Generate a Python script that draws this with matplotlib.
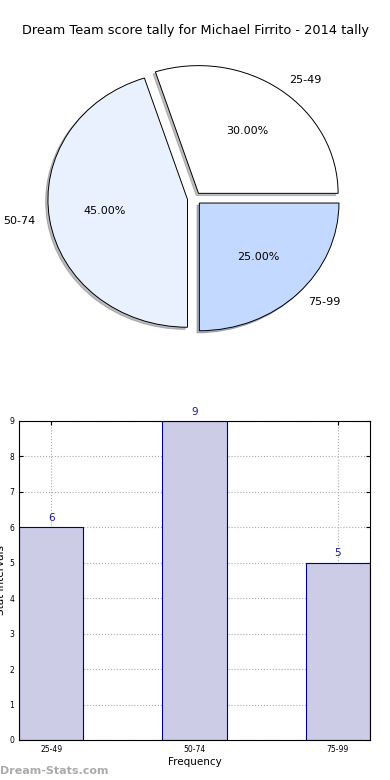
import matplotlib
matplotlib.use("Agg")
import matplotlib.pyplot as plt

# Data
categories = ["25-49", "50-74", "75-99"]
counts = [6, 9, 5]
pie_colors = ["#ffffff", "#eaf1fe", "#c4d9ff"]

title = "Dream Team score tally for Michael Firrito - 2014 tally"

fig = plt.figure(figsize=(3.9, 7.8), dpi=100)
fig.text(0.5, 0.961, title, ha="center", va="center", fontsize=9.3)

# Pie chart (elliptical, as in the reference)
ax1 = fig.add_axes([0.069, 0.549, 0.859, 0.393])
wedges, texts, autotexts = ax1.pie(
    counts,
    labels=categories,
    colors=pie_colors,
    explode=[0.05] * len(counts),
    autopct="%1.2f%%",
    shadow=dict(ox=-0.012, oy=-0.012, shade=0.5),
    startangle=0,
    wedgeprops=dict(edgecolor="black", linewidth=0.7),
    textprops=dict(fontsize=8),
)
ax1.set_aspect("auto")
ax1.set_xlim(-1.2, 1.2)
ax1.set_ylim(-1.2, 1.2)
ax1.axis("off")

# Bar chart
ax2 = fig.add_axes([0.0487, 0.0513, 0.9, 0.409])
x = list(range(len(categories)))
bars = ax2.bar(x, counts, width=0.45, color="#ccccE6", edgecolor="#000080",
               linewidth=0.8, zorder=2)
for xi, v in zip(x, counts):
    ax2.text(xi, v + 0.12, str(v), ha="center", va="bottom", fontsize=7.5,
             color="#1a1a90")
ax2.set_xlim(-0.225, 2.225)
ax2.set_ylim(0, 9)
ax2.set_xticks(x)
ax2.set_xticklabels(categories)
ax2.set_yticks(range(0, 10))
ax2.tick_params(labelsize=5.5, direction="in", top=True, right=True, length=3)
ax2.grid(True, linestyle=":", color="#aaaaaa", linewidth=0.8, zorder=0)
ax2.set_axisbelow(True)
ax2.set_xlabel("Frequency", fontsize=7.5, labelpad=2)
ax2.set_ylabel("Stat intervals", fontsize=7.5, labelpad=2)

fig.text(0.0, 0.012, "Dream-Stats.com", ha="left", va="center", fontsize=8,
         color="#aaaaaa", fontweight="bold")

fig.savefig("out.png", dpi=100)
